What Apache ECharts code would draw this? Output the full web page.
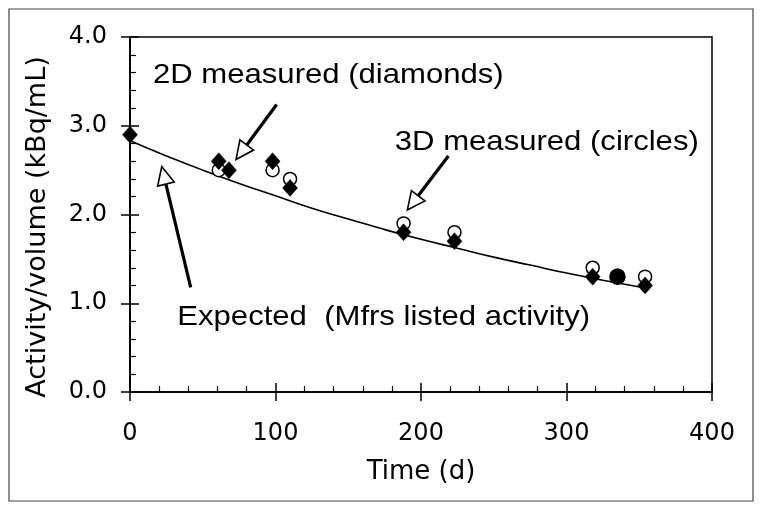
<!DOCTYPE html>
<html>
<head>
<meta charset="utf-8">
<script src="https://cdn.jsdelivr.net/npm/echarts@6/dist/echarts.min.js"></script>
<style>
html,body{margin:0;padding:0;background:#fff;}
#c{width:763px;height:512px;}
</style>
</head>
<body>
<div id="c"></div>
<script>
// ---- data ----
const days2D = [0, 61, 68, 98, 110, 188, 223, 318, 335, 354];
const act2D  = [2.9, 2.6, 2.5, 2.6, 2.3, 1.8, 1.7, 1.3, 1.3, 1.2];
const days3D = [61, 98, 110, 188, 223, 318, 335, 354];
const act3D  = [2.5, 2.5, 2.4, 1.9, 1.8, 1.4, 1.3, 1.3];
const filled3D = [false, false, false, false, false, false, true, false];
const daysExp = [0, 25, 50, 75, 100, 125, 150, 175, 200, 225, 250, 275, 300, 325, 355];
const actExp  = [2.83, 2.66, 2.50, 2.35, 2.21, 2.07, 1.95, 1.83, 1.72, 1.62, 1.52, 1.43, 1.34, 1.26, 1.17];
const xTicks = [0, 100, 200, 300, 400];
const yTicks = [0, 1, 2, 3, 4];
const xTitle = 'Time (d)';
const yTitle = 'Activity/volume (kBq/mL)';
const labels = [
  {text: '2D measured (diamonds)', at: [15.8, 3.567]},
  {text: '3D measured (circles)', at: [182.0, 2.816]},
  {text: 'Expected  (Mfrs listed activity)', at: [32.5, 0.841]}
];
const arrows = [
  {tail: [100.8, 3.24], tip: [72.9, 2.62]},
  {tail: [41.7, 1.18], tip: [21.8, 2.54]},
  {tail: [218.8, 2.66], tip: [190.6, 2.05]}
];

const chart = echarts.init(document.getElementById('c'), null, {renderer: 'canvas'});
const tickFont = 'DejaVu Sans';
const lineCol = '#000';

const baseX = {
  type: 'value', min: 0, max: 400, interval: 100,
  splitLine: {show: false},
  axisLine: {show: true, onZero: false, lineStyle: {color: lineCol, width: 1.5}}
};
const baseY = {
  type: 'value', min: 0, max: 4, interval: 1,
  splitLine: {show: false},
  axisLine: {show: true, onZero: false, lineStyle: {color: lineCol, width: 1.5}}
};

const option = {
  backgroundColor: '#fff',
  animation: false,
  grid: {left: 130, right: 51, top: 37, bottom: 120, show: true, borderColor: '#000', borderWidth: 1.5, backgroundColor: 'transparent'},
  xAxis: [
    Object.assign({}, baseX, {
      position: 'bottom',
      axisTick: {show: true, inside: false, length: 9, lineStyle: {color: lineCol, width: 1.5}},
      axisLabel: {show: true, margin: 30, fontFamily: tickFont, fontSize: 24, color: '#000',
        formatter: v => xTicks.includes(v) ? String(v) : ''},
      name: xTitle, nameLocation: 'middle', nameGap: 67,
      nameTextStyle: {fontFamily: tickFont, fontSize: 26, color: '#000'}
    }),
    Object.assign({}, baseX, {
      position: 'bottom',
      axisTick: {show: true, inside: true, length: 9, lineStyle: {color: lineCol, width: 1.5}},
      minorTick: {show: true, splitNumber: 5, length: 6, lineStyle: {color: lineCol, width: 1.2}},
      axisLabel: {show: false}
    })
  ],
  yAxis: [
    Object.assign({}, baseY, {
      position: 'left',
      axisTick: {show: true, inside: false, length: 9, lineStyle: {color: lineCol, width: 1.5}},
      axisLabel: {show: true, margin: 23, fontFamily: tickFont, fontSize: 24, color: '#000',
        formatter: v => yTicks.includes(v) ? v.toFixed(1) : ''}
    }),
    Object.assign({}, baseY, {
      position: 'left',
      axisTick: {show: true, inside: true, length: 9, lineStyle: {color: lineCol, width: 1.5}},
      minorTick: {show: true, splitNumber: 5, length: 6, lineStyle: {color: lineCol, width: 1.2}},
      axisLabel: {show: false}
    })
  ],
  series: [
    {
      name: 'Expected', type: 'line', smooth: true, symbol: 'none', z: 2,
      lineStyle: {color: '#000', width: 1.6},
      data: daysExp.map((d, i) => [d, actExp[i]])
    },
    {
      name: '3D', type: 'scatter', symbol: 'circle', symbolSize: 13, z: 3,
      data: days3D.map((d, i) => ({
        value: [d, act3D[i]],
        itemStyle: {color: filled3D[i] ? '#000' : '#fff', borderColor: '#000', borderWidth: 1.5, opacity: 1},
        symbolSize: filled3D[i] ? 15 : 13
      }))
    },
    {
      name: '2D', type: 'scatter', symbol: 'diamond', symbolSize: [15, 17], z: 4,
      itemStyle: {color: '#000', borderColor: '#000', borderWidth: 0.5, opacity: 1},
      data: days2D.map((d, i) => [d, act2D[i]])
    }
  ]
};
chart.setOption(option);

// annotations placed through the chart's own coordinate conversion
const graphics = [];
graphics.push({type: 'rect', shape: {x: 9, y: 9, width: 744, height: 492}, style: {fill: 'none', stroke: '#444', lineWidth: 1.2}, z: 0, silent: true});
graphics.push({type: 'text', x: 38, y: 227, rotation: Math.PI / 2, z: 10,
  style: {text: yTitle, fontFamily: tickFont, fontSize: 27, fill: '#000', textAlign: 'center', textVerticalAlign: 'middle', verticalAlign: 'middle', align: 'center'}});
labels.forEach(l => {
  const p = chart.convertToPixel({gridIndex: 0}, l.at);
  graphics.push({type: 'text', x: p[0], y: p[1], scaleX: 1.11, scaleY: 1, z: 10,
    style: {text: l.text, fontFamily: 'Liberation Sans, Arial', fontSize: 28, fill: '#000', textAlign: 'left', textVerticalAlign: 'middle', verticalAlign: 'middle'}});
});
arrows.forEach(a => {
  const t = chart.convertToPixel({gridIndex: 0}, a.tail);
  const h = chart.convertToPixel({gridIndex: 0}, a.tip);
  const dx = h[0] - t[0], dy = h[1] - t[1];
  const len = Math.sqrt(dx * dx + dy * dy);
  const ux = dx / len, uy = dy / len;
  const headLen = 18, headHalf = 8.5;
  const bx = h[0] - ux * headLen, by = h[1] - uy * headLen;
  graphics.push({type: 'line', z: 10, shape: {x1: t[0], y1: t[1], x2: bx, y2: by}, style: {stroke: '#000', lineWidth: 3.2}});
  graphics.push({type: 'polygon', z: 11, shape: {points: [
    [h[0], h[1]],
    [bx - uy * headHalf, by + ux * headHalf],
    [bx + uy * headHalf, by - ux * headHalf]
  ]}, style: {fill: '#fff', stroke: '#000', lineWidth: 1.6}});
});
chart.setOption({graphic: graphics});
</script>
</body>
</html>
